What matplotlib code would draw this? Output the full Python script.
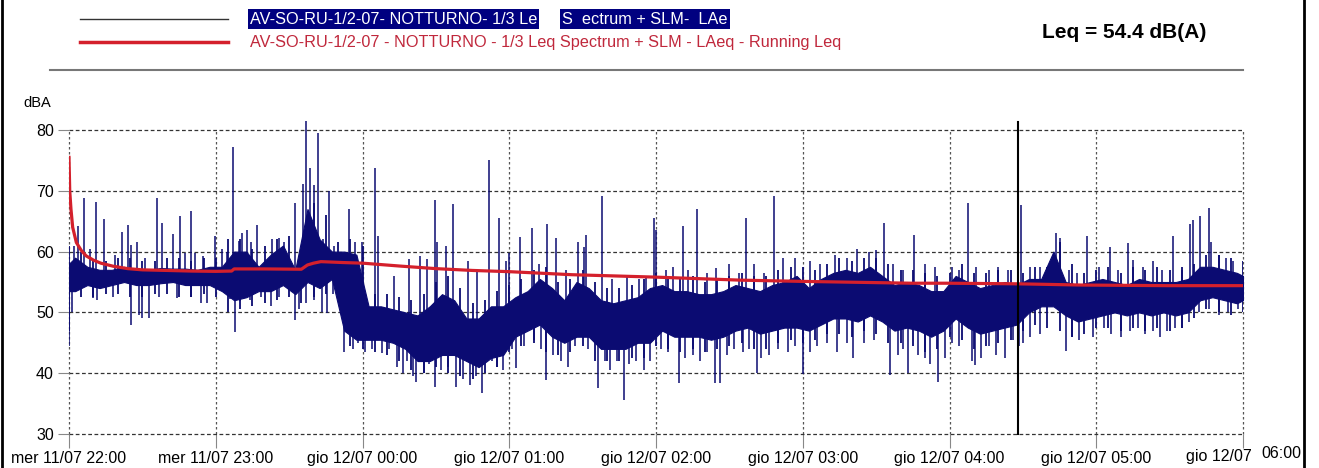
import numpy as np
import matplotlib.pyplot as plt
from matplotlib.lines import Line2D

plt.rcParams['font.family'] = ['Liberation Sans', 'DejaVu Sans']

# time axis: minutes after mer 11/07 22:00
tick_min = [0, 60, 120, 180, 240, 300, 360, 420, 480]
tick_labels = ['mer 11/07 22:00', 'mer 11/07 23:00', 'gio 12/07 00:00',
               'gio 12/07 01:00', 'gio 12/07 02:00', 'gio 12/07 03:00',
               'gio 12/07 04:00', 'gio 12/07 05:00', 'gio 12/07 06:00']
y_ticks = [30, 40, 50, 60, 70, 80]

# LAeq main band, read every 5 min (centre of each 5-min block)
t_core = [0] + [2.5 + 5 * k for k in range(96)] + [480]
core_lo = [53.5,
           53.5, 54.5, 54, 54.5, 55, 54.5, 54.5, 54.8, 55, 54.5, 54.5, 54.5,
           53.5, 52, 52.5, 53.5, 53.5, 54.5, 53, 55, 54, 55.5, 47, 45.5,
           45.5, 45.5, 45, 44, 42, 42, 43, 43, 42, 41, 42.5, 43,
           46, 47, 48, 46, 45, 46, 46, 44, 44, 44, 45, 45,
           47, 46, 46, 46, 45.5, 46, 47, 47.5, 46.5, 47, 47.5, 47.5,
           47, 48, 49, 49, 48.5, 49.5, 48.5, 47, 47.5, 47, 46, 47,
           49, 47.5, 46.5, 47, 47.5, 48, 50, 51, 51, 49.5, 48.5, 49,
           49.5, 50, 49.5, 50, 49.5, 50, 49.5, 50, 52, 52.5, 52, 51.5,
           52]
core_hi = [58,
           59, 57.5, 57, 57, 57.5, 57, 57, 57.3, 57.2, 57.2, 57, 57.5,
           57.5, 60, 60, 57.5, 59.5, 61, 57, 67, 62, 60, 60, 59.5,
           51, 51, 50.5, 50, 49.5, 51, 53, 52, 49, 49, 51, 51,
           52.5, 53.5, 55.5, 54, 52, 55, 54, 52, 51.5, 52, 52.5, 54,
           54.5, 53.5, 53.5, 53, 53, 53.5, 54.5, 54, 53.5, 54.5, 55, 56,
           54, 55.5, 56.5, 57, 56.5, 57.5, 56, 54.5, 55, 54.5, 53.5, 53.5,
           56, 55, 54, 54.5, 55, 54.5, 55.5, 55.5, 60, 55, 54.5, 55,
           55.5, 55, 54.5, 55.5, 55, 55, 55, 55.5, 57.5, 57.5, 57, 56.5,
           56]

# ragged outer edge of the band, read on the 5-min marks
t_edge = [5 * k for k in range(97)]
edge_hi = [61, 60, 58.5, 58.5, 59, 59, 58.5, 58.5, 59, 59, 58.5, 59,
           59, 62, 62, 60.5, 61, 62, 62.5, 58.5, 68, 66, 61.5, 62,
           61, 53, 53, 52.5, 52, 53, 55, 56, 54, 51.5, 52, 53.5,
           54.5, 55.5, 57, 57.5, 55, 55.5, 57, 55, 54, 54, 54.5, 55.5,
           56.5, 56, 55.5, 56, 55, 55.5, 56, 56.5, 56, 56, 57, 57.5,
           57.5, 57, 58, 59, 58.5, 59, 59, 58, 57, 57, 56.5, 56,
           56.5, 58, 56.5, 56.5, 57, 57, 56.5, 57.5, 57.5, 61.5, 58, 56.5,
           57, 57.5, 56.5, 57.5, 57, 57.5, 57, 57.5, 58, 59.5, 59.5, 59,
           58.5]
edge_lo = [47, 52.5, 52.5, 53, 53, 52.5, 52.5, 53, 53, 52.5, 52.5, 53,
           52.5, 50, 50.5, 51, 51.5, 52, 52.5, 51.5, 52.5, 53, 52.5, 44.5,
           44, 43.5, 43, 42, 40.5, 40, 41, 40, 39.5, 39, 40, 41,
           43.5, 44.5, 45, 43.5, 43, 43.5, 44.5, 42, 42, 42, 42.5, 42.5,
           44.5, 44, 43.5, 44, 43.5, 44, 44.5, 45, 44, 44, 45, 45.5,
           45, 45.5, 46.5, 46.5, 46, 47, 46.5, 45, 45, 44.5, 43.5, 44,
           46, 45.5, 44, 44.5, 45, 45.5, 47, 48, 47.5, 47, 46, 46.5,
           47.5, 47.5, 47, 47.5, 47, 47.5, 47, 47.5, 49, 50.5, 50, 49.5,
           50]

# upward peaks (minute, dBA)
spike_t = [2.0, 3.7, 6.3, 8.5, 11.2, 14.3, 19, 21.5, 24.1, 25.2, 27.9, 31, 35.8, 38.2,
           42.7, 45.4, 47.5, 49.7, 51.5, 54.7, 59.6, 62.5, 64.5,
           67.2, 69.5, 70.7, 72.8, 74.5, 76.9, 83, 86, 88, 92.6, 95.8, 96.9, 98.6, 100.0,
           101.8, 104, 106.5, 108.5, 114.3, 117, 119.8,
           125.1, 126.5, 133, 138.9, 143.6, 146.3, 149.7, 150.5, 154, 157, 163, 167, 171.9,
           175.9, 178.5,
           180, 184.4, 189.4, 192, 195.6, 199.1, 203, 208.2, 210.5, 211.4, 217.8, 222, 228,
           233, 236, 239.3, 239.8,
           244, 247, 251.2, 253, 256.9, 261, 264.5, 270, 274, 276.8, 280, 284, 288.3, 292, 297,
           303, 307, 313, 318, 322, 327, 330, 333.3, 337, 341, 345.6, 350, 354,
           361, 364, 367.5, 371, 376, 380, 384, 389.4, 393, 397, 401, 403.5, 405, 409, 412, 416.2,
           421, 425.7, 429, 432.9, 435, 439, 443, 447, 451.2, 455, 458.4, 459.5, 462.5, 465.9,
           467, 470, 473, 476]
spike_v = [61, 64.2, 68.8, 60.5, 68.2, 65.3, 59.5, 63.2, 64.4, 61.1, 61.6, 59, 68.8, 64.7,
           62.9, 65.9, 59.7, 66.6, 59.8, 59.2, 62.5, 60.5, 60.0,
           77.2, 61.8, 63.0, 63.6, 61.5, 64.4, 62.0, 62.2, 61.5, 68.0, 71.2, 81.5, 73.7, 71.0,
           79.5, 62, 69.9, 61.0, 67.0, 61.5, 61.6,
           73.7, 62.5, 56, 58.8, 59.2, 58.8, 68.5, 61.5, 60.9, 67.8, 58.5, 57, 75.1,
           65.5, 58.5,
           59.7, 62.4, 63.8, 58, 64.5, 62.2, 57, 61.6, 60.8, 62.7, 69.2, 55.5, 56,
           55.5, 56, 65.5, 63.5,
           57, 57.5, 64.2, 57, 67.0, 56.5, 57.3, 58, 56.5, 65.5, 58, 56.5, 69.2, 59, 59,
           58.5, 58, 59.5, 59, 60.5, 60.0, 60.3, 64.7, 58, 57, 62.8, 58, 57.5,
           57.5, 57, 68.0, 57.5, 57.0, 57.5, 57, 67.7, 57.5, 57.5, 56.5, 63.1, 62.3, 57, 56.5, 62.5,
           57.5, 60.8, 57, 61.4, 58.6, 57.5, 58.4, 57, 62.6, 57, 64.5, 65.2, 65.9, 67.2,
           61.6, 59.5, 59, 58.5]

# downward dips (minute, dBA)
dip_t = [0.2, 1.2, 9.8, 11.4, 18, 25.4, 28.5, 29.7, 32.8, 37, 44, 50, 54.1, 56.3, 65.9,
         67.9, 70, 74, 78.5, 82.5, 86, 92.6, 94, 97, 100, 103.5, 105.5, 108, 112.5, 116, 118,
         121, 124, 128, 131,
         134, 136.5, 138, 140.5, 142, 145, 147, 149.8, 152, 155, 158.3, 161, 164, 166.5, 168.9,
         173, 175, 177.6,
         181, 182.7, 186, 190, 193, 195, 198, 201, 204, 207, 212, 216.3, 219, 221, 224, 226.8,
         229, 232, 235, 237.5,
         242, 245, 249.2, 252, 255, 258, 261, 264.2, 266.2, 269, 272, 275.5, 278, 281.3, 283,
         286, 290, 294, 297,
         300.3, 303, 306, 310, 314, 318, 320.5, 325, 329, 335.8, 339, 341, 343.2, 347, 350, 352,
         355.5, 358,
         361, 364, 369, 370.5, 373, 376, 379, 382.5, 386, 388.5, 390, 393, 397, 407.5, 410, 413,
         418.5,
         423, 426, 430, 434, 437, 440, 443, 446, 449, 452, 455, 458, 462, 466, 470, 474, 478]
dip_v = [44.5, 50, 52.3, 52, 52.5, 48, 49.6, 49.1, 49, 52.5, 52.3, 52.5, 51.6, 51.6, 52.2,
         46.8, 51.8, 52, 52.5, 51.0, 52.5, 48.8, 50.5, 51.5, 52, 50, 49.9, 53, 43.5, 44, 45,
         43.5, 44, 43.3, 44,
         41, 40, 42, 39.5, 38.6, 40, 41.5, 37.8, 40.5, 41, 37.8, 39, 38, 39.5, 36.7,
         42, 41, 40.5,
         44, 40.8, 44.5, 45.5, 44, 38.9, 43, 42, 41, 44.5, 44, 37.5, 42, 40.5, 42, 35.6,
         41.5, 42, 40.5, 42,
         44, 43.5, 38.4, 42.5, 43, 42, 43.5, 38.4, 38.4, 43, 44, 43.5, 44, 40.0, 42.5,
         43, 44, 43.5, 44.5,
         39.8, 43.5, 44.5, 45, 43.5, 45, 42.5, 45, 45.5, 39.7, 43, 44, 40, 43, 42.5, 41.5,
         38.6, 42.5,
         45, 44.5, 42, 41.4, 42.5, 44.5, 43, 42.5, 45.5, 44.5, 45, 46, 46.5, 43.6, 46, 45.5,
         46,
         47.5, 46.5, 46, 47, 47.5, 46.5, 47, 46, 47, 47.5, 47.5, 48.5, 50, 50.5, 49.5, 50, 50.5]

# running Leq
leq_t = [0, 0.3, 0.8, 1.5, 3, 5, 7, 10, 13, 18, 24, 30, 40, 50, 60, 66.5, 67.5, 80, 95,
         97.5, 100, 103, 112, 120, 136, 150, 165, 180, 205.6, 240, 275, 300, 344.6, 360,
         388, 414, 449, 480]
leq_v = [75.5, 70, 67, 64, 61.5, 60.2, 59.3, 58.6, 58.1, 57.6, 57.2, 57.0, 56.9, 56.8,
         56.75, 56.8, 57.15, 57.15, 57.1, 57.8, 58.1, 58.35, 58.2, 58.1, 57.6, 57.2, 56.9,
         56.7, 56.2, 55.8, 55.3, 55.1, 54.8, 54.8, 54.7, 54.5, 54.4, 54.4]

cursor_min = 388.2
cursor_top = 81.3

navy = '#0b0b72'
red = '#d4202c'

W, H = 1319, 468
fig = plt.figure(figsize=(W / 100, H / 100), dpi=100)
ax = fig.add_axes([69 / W, 34 / H, 1174 / W, 304 / H])

lo = np.array(core_lo)
hi = np.array(core_hi)
mid = (lo + hi) / 2

ax.fill_between(t_core, lo, hi, color=navy, lw=0.8, zorder=3)
ax.vlines(t_edge, edge_lo, edge_hi, color=navy, lw=1.3, zorder=3)
ax.vlines(spike_t, np.interp(spike_t, t_core, mid), spike_v, color=navy, lw=1.1,
          zorder=3, clip_on=False)
ax.vlines(dip_t, np.interp(dip_t, t_core, mid), dip_v, color=navy, lw=1.1, zorder=3)
ax.plot(leq_t, leq_v, color=red, lw=2.3, zorder=4)
ax.axvline(cursor_min, ymin=0, ymax=(cursor_top - 30) / 50, color='black', lw=1.5,
           clip_on=False, zorder=5)

ax.set_xlim(0, 480)
ax.set_ylim(30, 80)
for s in ax.spines.values():
    s.set_visible(False)
ax.set_xticks(tick_min)
ax.set_xticklabels(tick_labels[:-1] + [''])
ax.set_yticks(y_ticks)
ax.tick_params(axis='y', length=8, color='#888888', pad=3, labelsize=11.5)
ax.tick_params(axis='x', length=10, color='#888888', pad=2, labelsize=11.5)
ax.grid(True, axis='y', color='#333333', linestyle=(0, (3, 2)), linewidth=0.9)
ax.grid(True, axis='x', color='#555555', linestyle=(0, (2, 2)), linewidth=0.9)
for gl in ax.get_xgridlines() + ax.get_ygridlines():
    gl.set_clip_on(False)

# last tick label is split in the original
last = tick_labels[-1].rsplit(' ', 1)
fig.text(1219 / W, 1 - 457 / H, last[0], ha='center', va='center', fontsize=11.5)
fig.text(1281 / W, 1 - 454 / H, last[1], ha='center', va='center', fontsize=11.5)

fig.text(37 / W, 1 - 103 / H, 'dBA', ha='center', va='center', fontsize=10.5)

# legend block
fig.add_artist(Line2D([80 / W, 228 / W], [1 - 19 / H] * 2, color='#333333', lw=1))
fig.add_artist(Line2D([80 / W, 228 / W], [1 - 42 / H] * 2, color=red, lw=2.5))
fig.text(250 / W, 1 - 19 / H, 'AV-SO-RU-1/2-07- NOTTURNO- 1/3 Le', color='white',
         va='center', fontsize=11.7,
         bbox=dict(facecolor='#000080', edgecolor='none', pad=1.5))
fig.text(562 / W, 1 - 19 / H, 'S  ectrum + SLM-  LAe', color='white',
         va='center', fontsize=11.7,
         bbox=dict(facecolor='#000080', edgecolor='none', pad=1.5))
fig.text(250 / W, 1 - 42 / H,
         'AV-SO-RU-1/2-07 - NOTTURNO - 1/3 Leq Spectrum + SLM - LAeq - Running Leq',
         color='#c0283c', va='center', fontsize=11.7)
fig.text(1124 / W, 1 - 32 / H, 'Leq = 54.4 dB(A)', ha='center', va='center',
         fontsize=15, fontweight='bold')
fig.add_artist(Line2D([50 / W, 1243 / W], [1 - 70 / H] * 2, color='#777777', lw=1.5))

# frame edges of the original screenshot
fig.add_artist(Line2D([1.5 / W] * 2, [0, 1], color='black', lw=2))
fig.add_artist(Line2D([1304 / W] * 2, [0, 1], color='black', lw=2))

fig.savefig('out.png', dpi=100)
